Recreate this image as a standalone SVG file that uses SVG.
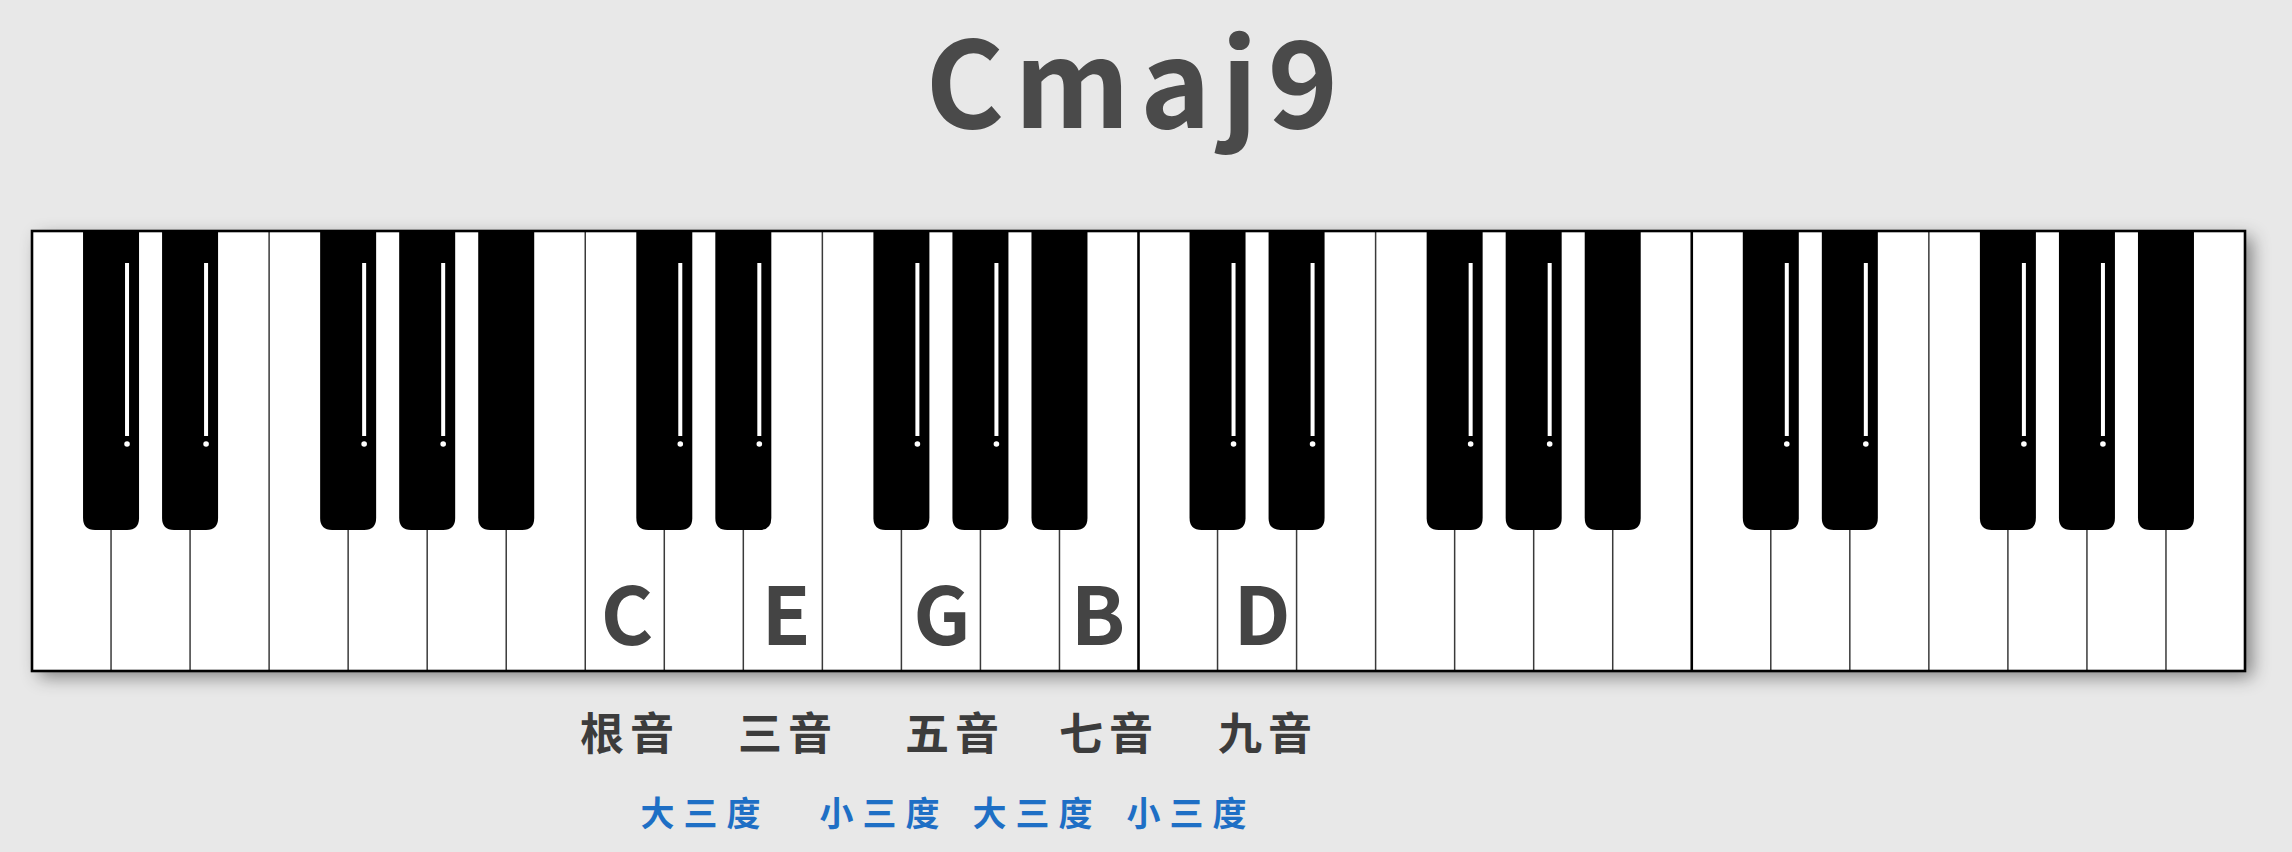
<svg xmlns="http://www.w3.org/2000/svg" xmlns:xlink="http://www.w3.org/1999/xlink" width="2292" height="852" viewBox="0 0 2292 852">
<defs>
<filter id="shadow" x="-5%" y="-10%" width="110%" height="125%">
<feDropShadow dx="7" dy="6" stdDeviation="9" flood-color="#000" flood-opacity="0.45"/>
</filter>
<path id="bk" d="M0,232 H56 V518 Q56,530 44,530 H12 Q0,530 0,518 Z" fill="#000"/>
<g id="bks">
<use xlink:href="#bk"/>
<rect x="42" y="263" width="4" height="173" fill="#fff"/>
<circle cx="44" cy="444" r="2.8" fill="#fff"/>
</g>
<style>
.div{stroke:#3a3a3a;stroke-width:1.5}
.oct{stroke:#000;stroke-width:2.6}
.title{font-family:"Noto Sans CJK SC","Noto Sans",sans-serif;font-weight:700;font-size:120px;fill:#4a4a4a;letter-spacing:10px}
.note{font-family:"Noto Sans CJK SC","Noto Sans",sans-serif;font-weight:700;font-size:80px;fill:#444;text-anchor:middle}
.deg{font-family:"Noto Sans CJK SC",sans-serif;font-weight:700;font-size:44px;fill:#3c3c3c;text-anchor:middle;letter-spacing:6px}
.iv{font-family:"Noto Sans CJK SC",sans-serif;font-weight:700;font-size:34px;fill:#1e6fc5;text-anchor:middle;letter-spacing:9px}
</style>
</defs>
<rect width="2292" height="852" fill="#e8e8e8"/>
<g id="title"><text class="title" x="1137" y="128" text-anchor="middle">Cmaj9</text></g>
<g id="keyboard">
<rect x="32" y="231" width="2213" height="440" fill="#fff" filter="url(#shadow)"/>
<g id="dividers">
<line class="div" x1="111.04" y1="231" x2="111.04" y2="671"/>
<line class="div" x1="190.07" y1="231" x2="190.07" y2="671"/>
<line class="div" x1="269.11" y1="231" x2="269.11" y2="671"/>
<line class="div" x1="348.14" y1="231" x2="348.14" y2="671"/>
<line class="div" x1="427.18" y1="231" x2="427.18" y2="671"/>
<line class="div" x1="506.22" y1="231" x2="506.22" y2="671"/>
<line class="div" x1="585.25" y1="231" x2="585.25" y2="671"/>
<line class="div" x1="664.29" y1="231" x2="664.29" y2="671"/>
<line class="div" x1="743.32" y1="231" x2="743.32" y2="671"/>
<line class="div" x1="822.36" y1="231" x2="822.36" y2="671"/>
<line class="div" x1="901.40" y1="231" x2="901.40" y2="671"/>
<line class="div" x1="980.43" y1="231" x2="980.43" y2="671"/>
<line class="div" x1="1059.47" y1="231" x2="1059.47" y2="671"/>
<line class="oct" x1="1138.50" y1="231" x2="1138.50" y2="671"/>
<line class="div" x1="1217.54" y1="231" x2="1217.54" y2="671"/>
<line class="div" x1="1296.58" y1="231" x2="1296.58" y2="671"/>
<line class="div" x1="1375.61" y1="231" x2="1375.61" y2="671"/>
<line class="div" x1="1454.65" y1="231" x2="1454.65" y2="671"/>
<line class="div" x1="1533.68" y1="231" x2="1533.68" y2="671"/>
<line class="div" x1="1612.72" y1="231" x2="1612.72" y2="671"/>
<line class="oct" x1="1691.76" y1="231" x2="1691.76" y2="671"/>
<line class="div" x1="1770.79" y1="231" x2="1770.79" y2="671"/>
<line class="div" x1="1849.83" y1="231" x2="1849.83" y2="671"/>
<line class="div" x1="1928.86" y1="231" x2="1928.86" y2="671"/>
<line class="div" x1="2007.90" y1="231" x2="2007.90" y2="671"/>
<line class="div" x1="2086.94" y1="231" x2="2086.94" y2="671"/>
<line class="div" x1="2165.97" y1="231" x2="2165.97" y2="671"/>
</g>
<g id="black-keys">
<use xlink:href="#bks" x="83.04"/>
<use xlink:href="#bks" x="162.07"/>
<use xlink:href="#bks" x="320.14"/>
<use xlink:href="#bks" x="399.18"/>
<use xlink:href="#bk" x="478.22"/>
<use xlink:href="#bks" x="636.29"/>
<use xlink:href="#bks" x="715.32"/>
<use xlink:href="#bks" x="873.40"/>
<use xlink:href="#bks" x="952.43"/>
<use xlink:href="#bk" x="1031.47"/>
<use xlink:href="#bks" x="1189.54"/>
<use xlink:href="#bks" x="1268.58"/>
<use xlink:href="#bks" x="1426.65"/>
<use xlink:href="#bks" x="1505.68"/>
<use xlink:href="#bk" x="1584.72"/>
<use xlink:href="#bks" x="1742.79"/>
<use xlink:href="#bks" x="1821.83"/>
<use xlink:href="#bks" x="1979.90"/>
<use xlink:href="#bks" x="2058.94"/>
<use xlink:href="#bk" x="2137.97"/>
</g>
<rect x="32" y="231" width="2213" height="440" fill="none" stroke="#000" stroke-width="2.6"/>
</g>
<g id="notes">
<text class="note" x="627" y="645">C</text>
<text class="note" x="786" y="645">E</text>
<text class="note" x="942" y="645">G</text>
<text class="note" x="1098" y="645">B</text>
<text class="note" x="1262" y="645">D</text>
</g>
<g id="degrees">
<text class="deg" x="630" y="750">根音</text>
<text class="deg" x="788" y="750">三音</text>
<text class="deg" x="955" y="750">五音</text>
<text class="deg" x="1109" y="750">七音</text>
<text class="deg" x="1268" y="750">九音</text>
</g>
<g id="intervals">
<text class="iv" x="705" y="826">大三度</text>
<text class="iv" x="884" y="826">小三度</text>
<text class="iv" x="1037" y="826">大三度</text>
<text class="iv" x="1191" y="826">小三度</text>
</g>
</svg>
